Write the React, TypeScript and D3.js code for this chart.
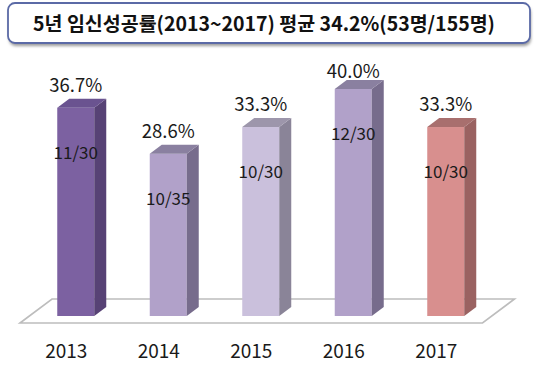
import { useEffect, useRef } from 'react';
import * as d3 from 'd3';

const years = ['2013', '2014', '2015', '2016', '2017'];
const rates = [36.7, 28.6, 33.3, 40.0, 33.3];
const counts = ['11/30', '10/35', '10/30', '12/30', '10/30'];
const frontColors = ['#7c61a1', '#b1a1c9', '#cac0dc', '#b1a1c9', '#d88f8e'];
const topColors = ['#6a5390', '#8a80a0', '#9d96ab', '#8a80a0', '#a86f6e'];
const sideColors = ['#574275', '#776c8c', '#8a8498', '#776c8c', '#9a6261'];
const title = '5년 임신성공률(2013~2017) 평균 34.2%(53명/155명)';

const W = 534;
const H = 373;
const font = "'Noto Sans CJK KR', 'Noto Sans', sans-serif";

const App = () => {
  const ref = useRef<SVGSVGElement>(null);

  useEffect(() => {
    const svg = d3.select(ref.current);
    svg.selectAll('*').remove();

    const x = d3.scaleBand<string>().domain(years).range([29.5, 492]).padding(0);
    const y = d3.scaleLinear().domain([0, 40]).range([316, 89]);
    const bw = x.bandwidth() * 0.4;
    const dx = 12;
    const dy = 9;
    const base = y(0);

    // title box
    const defs = svg.append('defs');
    const f = defs.append('filter').attr('id', 'sh').attr('x', '-10%').attr('y', '-30%').attr('width', '120%').attr('height', '160%');
    f.append('feGaussianBlur').attr('stdDeviation', 1.5);
    svg.append('rect')
      .attr('x', 9).attr('y', 6).attr('width', 522).attr('height', 40).attr('rx', 7)
      .attr('fill', '#9a9a9a').attr('filter', 'url(#sh)');
    svg.append('rect')
      .attr('x', 8).attr('y', 3).attr('width', 522).attr('height', 40).attr('rx', 7)
      .attr('fill', '#fff').attr('stroke', '#5b6aa6').attr('stroke-width', 1.8);
    svg.append('text')
      .attr('x', 264).attr('y', 31).attr('text-anchor', 'middle')
      .attr('font-family', font).attr('font-weight', 'bold').attr('font-size', 19.5)
      .attr('fill', '#111')
      .text(title);

    // floor
    const fx0 = x.range()[0] - 9.5;
    const fx1 = x.range()[1] - 9.5;
    const fy = base + 7;
    const bx = 32;
    const by = 24;
    svg.append('path')
      .attr('d', `M${fx0},${fy}L${fx0 + bx},${fy - by}L${fx1 + bx},${fy - by}L${fx1},${fy}Z`)
      .attr('fill', '#fff').attr('stroke', '#bdbdbd').attr('stroke-width', 1.6);

    const g = svg.append('g');
    years.forEach((yr, i) => {
      const cx = (x(yr) as number) + x.bandwidth() / 2;
      const x0 = cx - bw / 2;
      const top = y(rates[i]);
      g.append('rect').attr('x', x0).attr('y', top).attr('width', bw).attr('height', base - top)
        .attr('fill', frontColors[i]);
      g.append('path')
        .attr('d', `M${x0 + bw},${top}L${x0 + bw + dx},${top - dy}L${x0 + bw + dx},${base - dy}L${x0 + bw},${base}Z`)
        .attr('fill', sideColors[i]);
      g.append('path')
        .attr('d', `M${x0},${top}L${x0 + dx},${top - dy}L${x0 + bw + dx},${top - dy}L${x0 + bw},${top}Z`)
        .attr('fill', topColors[i]);

      g.append('text')
        .attr('x', cx).attr('y', Math.max(top - 16, 78)).attr('text-anchor', 'middle')
        .attr('font-family', font).attr('font-size', 18.5).attr('fill', '#1a1a1a')
        .text(rates[i].toFixed(1) + '%');
      g.append('text')
        .attr('x', cx).attr('y', top + 51).attr('text-anchor', 'middle')
        .attr('font-family', font).attr('font-size', 17).attr('fill', '#1a1a1a')
        .text(counts[i]);
      g.append('text')
        .attr('x', cx - 9.5).attr('y', 358).attr('text-anchor', 'middle')
        .attr('font-family', font).attr('font-size', 19).attr('fill', '#1a1a1a')
        .text(yr);
    });
  }, []);

  return (
    <svg ref={ref} width={W} height={H} style={{ position: 'absolute', left: 0, top: 0, background: '#fff' }} />
  );
};

export default App;
